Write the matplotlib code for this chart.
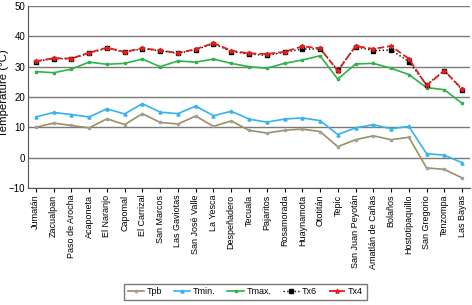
import matplotlib.pyplot as plt
import numpy as np

plt.rcParams['font.family'] = ['Liberation Sans', 'DejaVu Sans']

stations = ['Jumatán', 'Zacualpan', 'Paso de Arocha', 'Acaponeta', 'El Naranjo',
            'Capomal', 'El Carrizal', 'San Marcos', 'Las Gaviotas', 'San José Valle',
            'La Yesca', 'Despeñadero', 'Tecuala', 'Pajaritos', 'Rosamorada',
            'Huaynamota', 'Ototitán', 'Tepic', 'San Juan Peyotán', 'Amatlán de Cañas',
            'Bolaños', 'Hostotipaquillo', 'San Gregorio', 'Tenzompa', 'Las Bayas']

tpb = [10.0, 11.4, 10.6, 9.8, 12.8, 10.9, 14.5, 11.6, 11.1, 13.7, 10.3, 12.1,
       9.0, 8.1, 9.0, 9.4, 8.6, 3.6, 5.9, 7.2, 5.9, 6.7, -3.4, -3.9, -6.7]
tmin = [13.4, 14.9, 14.2, 13.4, 16.1, 14.4, 17.8, 15.0, 14.5, 17.0, 13.8, 15.3,
        12.7, 11.7, 12.7, 13.1, 12.2, 7.6, 9.8, 10.9, 9.5, 10.3, 1.3, 0.8, -1.7]
tmax = [28.4, 28.0, 29.2, 31.5, 30.8, 31.1, 32.5, 30.0, 31.9, 31.5, 32.5, 31.1,
        30.0, 29.5, 31.1, 32.2, 33.6, 25.9, 30.9, 31.1, 29.5, 27.4, 23.1, 22.4, 17.9]
tx6 = [31.7, 32.7, 32.6, 34.5, 36.1, 34.8, 35.9, 35.3, 34.4, 35.6, 37.6, 35.0,
       34.2, 33.7, 34.8, 35.8, 35.9, 28.9, 36.6, 35.3, 35.5, 31.7, 24.0, 28.7, 22.4]
tx4 = [31.8, 32.8, 32.7, 34.6, 36.3, 34.9, 36.1, 35.4, 34.5, 35.8, 37.8, 35.3,
       34.4, 34.2, 34.9, 36.7, 36.1, 28.6, 36.8, 35.9, 36.8, 32.6, 23.8, 28.7, 22.6]

x = np.arange(len(stations))

fig = plt.figure(figsize=(4.72, 3.05), dpi=100)
ax = fig.add_axes([0.059, 0.384, 0.937, 0.596])

ax.plot(x, tpb, '-', color='#9c8f62', lw=1.2, marker='s', ms=1.8, mfc='#a0a0a0', mec='#a0a0a0', label='Tpb')
ax.plot(x, tmin, '-', color='#35b3ec', lw=1.2, marker='^', ms=2.2, label='Tmin.')
ax.plot(x, tmax, '-', color='#2fb24a', lw=1.2, marker='s', ms=1.8, label='Tmax.')
ax.plot(x, tx6, ':', color='black', lw=1.0, marker='s', ms=2.2, label='Tx6')
ax.plot(x, tx4, '--', color='#e0201c', lw=1.3, marker='*', ms=3.5, label='Tx4')

ax.set_ylim(-10, 50)
ax.set_yticks(range(-10, 51, 10))
ax.set_yticklabels(['\u221210', '0', '10', '20', '30', '40', '50'])
ax.set_xlim(-0.45, len(stations) - 0.55)
ax.set_xticks(x)
ax.set_xticklabels(stations, rotation=90, fontsize=6.5)
ax.tick_params(axis='y', length=0, labelsize=7, pad=2)
ax.tick_params(axis='x', length=3, direction='out', pad=2)
ax.set_ylabel('Temperature (°C)', fontsize=8.2)
ax.yaxis.set_label_coords(-0.043, 0.52)

ax.grid(axis='y', color='#7a7a7a', lw=1.0)
ax.set_axisbelow(True)
for s in ['top', 'right']:
    ax.spines[s].set_visible(False)
ax.spines['left'].set_color('#555555')
ax.spines['bottom'].set_color('#555555')

fig.legend(loc='center', bbox_to_anchor=(0.52, 0.043), ncol=5, fontsize=6.5,
           frameon=True, fancybox=False, edgecolor='#555555', handlelength=1.8,
           handletextpad=0.3, columnspacing=1.3, borderpad=0.4)

fig.savefig('out.png', dpi=100)
